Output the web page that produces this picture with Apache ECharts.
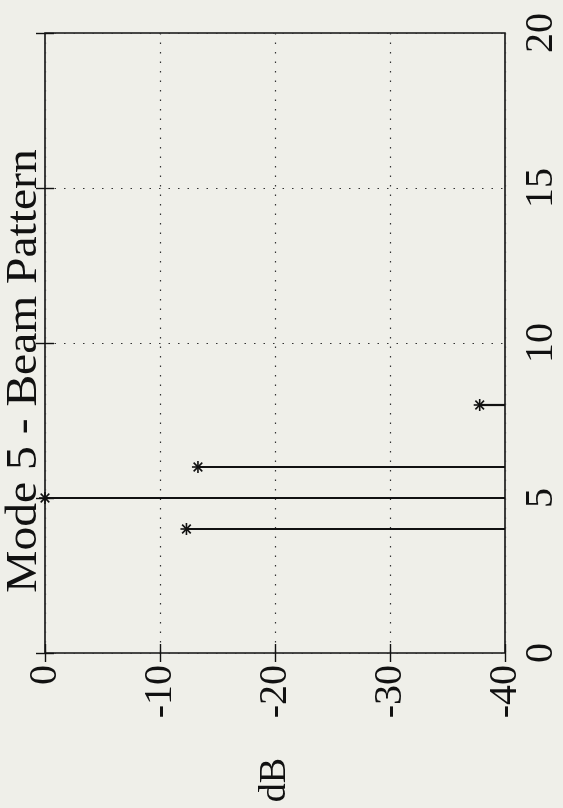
<!DOCTYPE html>
<html>
<head>
<meta charset="utf-8">
<script src="https://cdn.jsdelivr.net/npm/echarts@6/dist/echarts.min.js"></script>
<style>
html,body{margin:0;padding:0;background:#efefe9;}
#chart{width:563px;height:808px;}
</style>
</head>
<body>
<div id="chart"></div>
<script>
// Data
const elementIndex = [4, 5, 6, 8];
const levelDb = [-12.3, 0, -13.3, -37.8];
const stemBase = -40;
const dbTicks = [0, -10, -20, -30, -40];
const indexTicks = [0, 5, 10, 15, 20];
const titleText = 'Mode 5 - Beam Pattern';
const dbLabel = 'dB';

const stemData = elementIndex.map((x, i) => [levelDb[i], x]);
const FONT = 'Liberation Serif';
const INK = '#111';

const chart = echarts.init(document.getElementById('chart'));
const gridLine = { show: true, lineStyle: { color: '#333', width: 1.2, type: [1.5, 8] } };

chart.setOption({
  backgroundColor: '#efefe9',
  animation: false,
  grid: { left: 45, right: 58, top: 33, bottom: 155, show: true, borderColor: INK, borderWidth: 1.6, backgroundColor: 'transparent' },
  graphic: [{
    type: 'text',
    x: 24, y: 371,
    rotation: Math.PI / 2,
    scaleX: 1.08,
    style: { text: titleText, font: '44px "Liberation Serif"', fill: INK, align: 'center', verticalAlign: 'middle' }
  }],
  xAxis: [{
    type: 'value', min: Math.min(...dbTicks), max: Math.max(...dbTicks), interval: 10, inverse: true,
    position: 'bottom',
    axisLine: { show: false },
    axisTick: { show: true, inside: true, length: 9, lineStyle: { color: INK, width: 1.4 } },
    axisLabel: { rotate: 90, fontSize: 40, fontFamily: FONT, color: INK, margin: 12,
      formatter: v => dbTicks.includes(v) ? String(v) : '' },
    splitLine: gridLine,
    name: dbLabel, nameLocation: 'middle', nameRotate: 90, nameGap: 105,
    nameTextStyle: { fontSize: 38, fontFamily: FONT, color: INK }
  }, {
    type: 'value', min: -40, max: 0, interval: 10, inverse: true, position: 'top',
    axisLine: { show: false },
    axisTick: { show: true, inside: true, length: 9, lineStyle: { color: INK, width: 1.4 } },
    axisLabel: { show: false }, splitLine: { show: false }
  }],
  yAxis: [{
    type: 'value', min: Math.min(...indexTicks), max: Math.max(...indexTicks), interval: 5,
    position: 'right',
    axisLine: { show: false },
    axisTick: { show: true, inside: true, length: 9, lineStyle: { color: INK, width: 1.4 } },
    axisLabel: { rotate: 90, fontSize: 40, fontFamily: FONT, color: INK, margin: 16,
      formatter: v => indexTicks.includes(v) ? String(v) : '' },
    splitLine: gridLine
  }, {
    type: 'value', min: 0, max: 20, interval: 5, position: 'left',
    axisLine: { show: false },
    axisTick: { show: true, inside: true, length: 9, lineStyle: { color: INK, width: 1.4 } },
    axisLabel: { show: false }, splitLine: { show: false }
  }],
  series: [{
    type: 'custom',
    xAxisIndex: 0, yAxisIndex: 0,
    clip: false,
    encode: { x: 0, y: 1 },
    data: stemData,
    renderItem: function (params, api) {
      const p = api.coord([api.value(0), api.value(1)]);
      const b = api.coord([stemBase, api.value(1)]);
      const r = 6, d = r * 0.72;
      const st = { stroke: INK, lineWidth: 1.6 };
      return {
        type: 'group',
        children: [
          { type: 'line', shape: { x1: b[0], y1: b[1], x2: p[0], y2: p[1] }, style: { stroke: INK, lineWidth: 2.2 } },
          { type: 'line', shape: { x1: p[0] - r, y1: p[1], x2: p[0] + r, y2: p[1] }, style: st },
          { type: 'line', shape: { x1: p[0], y1: p[1] - r, x2: p[0], y2: p[1] + r }, style: st },
          { type: 'line', shape: { x1: p[0] - d, y1: p[1] - d, x2: p[0] + d, y2: p[1] + d }, style: st },
          { type: 'line', shape: { x1: p[0] - d, y1: p[1] + d, x2: p[0] + d, y2: p[1] - d }, style: st }
        ]
      };
    }
  }]
});
</script>
</body>
</html>
